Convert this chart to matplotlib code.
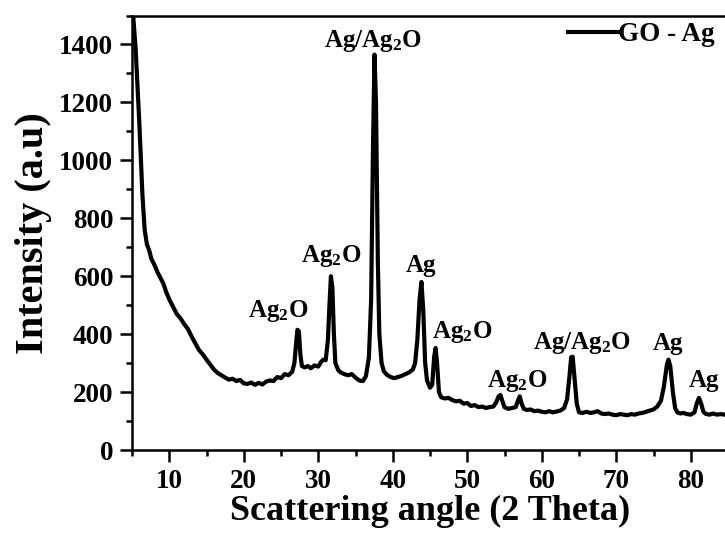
import matplotlib
matplotlib.use("Agg")
import matplotlib.pyplot as plt
from matplotlib.ticker import MultipleLocator

plt.rcParams['font.family'] = ['Liberation Serif', 'DejaVu Serif']
plt.rcParams['font.weight'] = 'bold'
plt.rcParams['mathtext.fontset'] = 'custom'
plt.rcParams['mathtext.rm'] = 'Liberation Serif:bold'
plt.rcParams['mathtext.it'] = 'Liberation Serif:bold:italic'
plt.rcParams['mathtext.bf'] = 'Liberation Serif:bold'
plt.rcParams['mathtext.default'] = 'rm'

two_theta = [5.1, 5.5, 6.0, 6.4, 6.7, 7.0, 7.3, 7.6, 8.0, 8.4, 8.8, 9.2, 9.6, 10.0, 10.5,
             11.0, 11.5, 12.0, 12.5, 13.0, 13.5, 14.0, 14.5, 15.0, 15.5, 16.0, 16.5, 17.0,
             17.5, 18.0, 18.5, 19.0, 19.5, 20.0, 20.5, 21.0, 21.5, 22.0, 22.5, 23.0, 23.5,
             24.0, 24.5, 25.0, 25.5, 26.0, 26.5, 26.8, 27.0, 27.2, 27.4, 27.6, 27.8, 28.2,
             28.6, 29.0, 29.5, 30.0, 30.4, 30.7, 31.0, 31.3, 31.5, 31.7, 31.9, 32.1, 32.3,
             32.7, 33.0, 33.5, 34.0, 34.5, 35.0, 35.5, 36.0, 36.4, 36.8, 37.1, 37.35, 37.55,
             37.75, 38.0, 38.2, 38.5, 38.8, 39.2, 39.7, 40.2, 40.7, 41.2, 41.7, 42.2, 42.7,
             43.0, 43.3, 43.6, 43.85, 44.1, 44.35, 44.6, 45.0, 45.3, 45.55, 45.75, 45.95,
             46.2, 46.5, 47.0, 47.5, 48.0, 48.5, 49.0, 49.5, 50.0, 50.5, 51.0, 51.5, 52.0,
             52.5, 53.0, 53.5, 53.9, 54.2, 54.45, 54.7, 55.0, 55.5, 56.0, 56.5, 56.8, 57.05,
             57.3, 57.6, 58.0, 58.5, 59.0, 59.5, 60.0, 60.5, 61.0, 61.5, 62.0, 62.5, 63.0,
             63.4, 63.7, 63.95, 64.15, 64.4, 64.7, 65.0, 65.5, 66.0, 66.5, 67.0, 67.5, 68.0,
             68.5, 69.0, 69.5, 70.0, 70.5, 71.0, 71.5, 72.0, 72.5, 73.0, 73.5, 74.0, 74.5,
             75.0, 75.5, 76.0, 76.4, 76.8, 77.0, 77.25, 77.6, 77.9, 78.2, 78.6, 79.0, 79.5,
             80.0, 80.5, 80.8, 81.1, 81.4, 81.7, 82.0, 82.5, 83.0, 83.5, 84.0, 84.5, 85.0]

intensity = [1520, 1380, 1120, 880, 760, 710, 690, 660, 640, 615, 595, 575, 545, 520, 495,
             470, 455, 435, 418, 392, 368, 345, 330, 312, 295, 278, 266, 258,
             250, 243, 246, 238, 242, 230, 228, 233, 225, 232, 226, 236, 240,
             238, 252, 248, 262, 258, 270, 300, 360, 415, 410, 330, 290, 285,
             290, 282, 292, 288, 305, 312, 310, 380, 500, 600, 560, 400, 300,
             275, 268, 262, 258, 262, 250, 240, 238, 255, 320, 520, 1050, 1365,
             1200, 650, 400, 300, 272, 260, 252, 248, 252, 256, 262, 268, 278,
             300, 380, 520, 580, 480, 300, 240, 215, 225, 320, 352, 300,
             200, 182, 178, 180, 172, 168, 170, 160, 162, 152, 155, 148, 150,
             145, 148, 150, 165, 185, 190, 170, 148, 142, 145, 148, 170, 185,
             160, 142, 138, 140, 134, 136, 132, 130, 134, 130, 133, 136, 145,
             175, 250, 320, 322, 250, 160, 130, 128, 132, 128, 130, 134, 126,
             124, 126, 122, 120, 124, 122, 120, 124, 122, 126, 128, 132, 136,
             140, 150, 170, 220, 295, 312, 290, 200, 145, 130, 126, 128, 124,
             122, 130, 160, 180, 160, 132, 125, 122, 126, 122, 124, 122, 124]

peak_labels = ["Ag/Ag$_2$O", "Ag$_2$O", "Ag$_2$O", "Ag", "Ag$_2$O", "Ag$_2$O",
               "Ag/Ag$_2$O", "Ag", "Ag"]
label_x = [37.35, 24.6, 31.7, 43.8, 49.3, 56.7, 65.4, 76.9, 81.8]
label_y = [1390, 460, 648, 615, 387, 218, 348, 346, 218]

series_name = "GO - Ag"
x_ticks = [10, 20, 30, 40, 50, 60, 70, 80]
y_ticks = [0, 200, 400, 600, 800, 1000, 1200, 1400]

fig = plt.figure(figsize=(7.25, 5.35), dpi=100)
ax = fig.add_axes([132/725, 85/535, 596/725, 434.5/535])

ax.plot(two_theta, intensity, color='black', lw=3.0, solid_joinstyle='round',
        label=series_name)

ax.set_xlim(5, 85)
ax.set_ylim(0, 1500)
ax.set_xticks(x_ticks)
ax.set_yticks(y_ticks)
ax.xaxis.set_minor_locator(MultipleLocator(5))
ax.yaxis.set_minor_locator(MultipleLocator(100))
ax.tick_params(which='major', direction='out', length=8.5, width=1.8,
               labelsize=19.5, pad=5)
ax.tick_params(which='minor', direction='out', length=4.5, width=1.8)
for s in ax.spines.values():
    s.set_linewidth(1.8)

ax.set_xlabel("Scattering angle (2 Theta)", fontsize=26, fontweight='bold', labelpad=1)
ax.set_ylabel("Intensity (a.u)", fontsize=29, fontweight='bold', labelpad=5)

for t, x, y in zip(peak_labels, label_x, label_y):
    ax.text(x, y, t, ha='center', va='baseline', fontsize=18, fontweight='bold')

leg = ax.legend(loc='upper right', bbox_to_anchor=(715/725, 1 - 22/535),
                bbox_transform=fig.transFigure, frameon=False, fontsize=19.5,
                handlelength=1.85, handletextpad=0.0, borderaxespad=0, borderpad=0)

fig.savefig("out.png", dpi=100)
